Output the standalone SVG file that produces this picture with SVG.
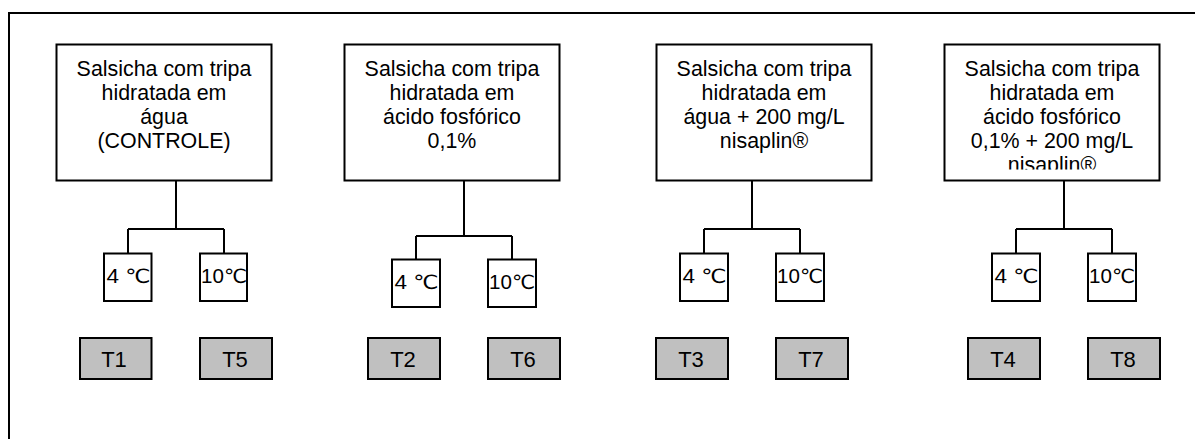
<svg xmlns="http://www.w3.org/2000/svg" width="1195" height="439" viewBox="0 0 1195 439">
<style>
  .box{fill:#fff;stroke:#000;stroke-width:2}
  .tbox{fill:#c0c0c0;stroke:#000;stroke-width:2}
  .ln{fill:none;stroke:#000;stroke-width:2}
  .t{font-family:"Liberation Sans",Arial,sans-serif;font-size:21.4px;fill:#000;text-anchor:middle}
  .tmp{font-family:"Liberation Sans",Arial,"DejaVu Sans",sans-serif;font-size:19.5px;fill:#000}
  .lab{font-family:"Liberation Sans",Arial,sans-serif;font-size:22px;fill:#000;text-anchor:middle}
</style>
<defs>
  <clipPath id="clip4"><rect x="944" y="44" width="217" height="125.5"/></clipPath>
</defs>
<rect width="1195" height="439" fill="#fff"/>
<path class="ln" d="M9,439 V13 H1195" stroke-width="1.8"/>

<g id="connectors">
  <path class="ln" d="M176,181 V229 M128,229 H224 M128,229 V253.5 M224,229 V253.5"/>
  <path class="ln" d="M464,181 V236 M416,236 H512 M416,236 V259.5 M512,236 V259.5"/>
  <path class="ln" d="M752,181 V229 M704,229 H800 M704,229 V253.5 M800,229 V253.5"/>
  <path class="ln" d="M1064,181 V229 M1016,229 H1112 M1016,229 V253.5 M1112,229 V253.5"/>
</g>

<g id="n1">
  <rect class="box" x="56.5" y="44.5" width="215" height="136"/>
  <text class="t" x="164" y="76">Salsicha com tripa</text>
  <text class="t" x="164" y="100">hidratada em</text>
  <text class="t" x="164" y="124">água</text>
  <text class="t" x="164" y="148">(CONTROLE)</text>
</g>
<g id="n2">
  <rect class="box" x="344.5" y="44.5" width="215" height="136"/>
  <text class="t" x="452" y="76">Salsicha com tripa</text>
  <text class="t" x="452" y="100">hidratada em</text>
  <text class="t" x="452" y="124">ácido fosfórico</text>
  <text class="t" x="452" y="148">0,1%</text>
</g>
<g id="n3">
  <rect class="box" x="656.5" y="44.5" width="215" height="136"/>
  <text class="t" x="764" y="76">Salsicha com tripa</text>
  <text class="t" x="764" y="100">hidratada em</text>
  <text class="t" x="764" y="124">água + 200 mg/L</text>
  <text class="t" x="764" y="148">nisaplin®</text>
</g>
<g id="n4">
  <rect class="box" x="944.5" y="44.5" width="215" height="136"/>
  <g clip-path="url(#clip4)">
    <text class="t" x="1052" y="76">Salsicha com tripa</text>
    <text class="t" x="1052" y="100">hidratada em</text>
    <text class="t" x="1052" y="124">ácido fosfórico</text>
    <text class="t" x="1052" y="148">0,1% + 200 mg/L</text>
    <text class="t" x="1052" y="172">nisaplin®</text>
  </g>
</g>

<g id="c1a"><rect class="box" x="104" y="253.5" width="47.5" height="47.5"/><text class="tmp" x="106.5" y="283" textLength="44" lengthAdjust="spacingAndGlyphs">4 ℃</text></g>
<g id="c1b"><rect class="box" x="200" y="253.5" width="47" height="47.5"/><text class="tmp" x="201" y="283" textLength="46" lengthAdjust="spacingAndGlyphs">10℃</text></g>
<g id="c2a"><rect class="box" x="392" y="259.5" width="48" height="47.5"/><text class="tmp" x="394.5" y="289" textLength="44" lengthAdjust="spacingAndGlyphs">4 ℃</text></g>
<g id="c2b"><rect class="box" x="488" y="259.5" width="48" height="47.5"/><text class="tmp" x="489" y="289" textLength="46" lengthAdjust="spacingAndGlyphs">10℃</text></g>
<g id="c3a"><rect class="box" x="680" y="253.5" width="48" height="47.5"/><text class="tmp" x="682.5" y="283" textLength="44" lengthAdjust="spacingAndGlyphs">4 ℃</text></g>
<g id="c3b"><rect class="box" x="776" y="253.5" width="48" height="47.5"/><text class="tmp" x="777" y="283" textLength="46" lengthAdjust="spacingAndGlyphs">10℃</text></g>
<g id="c4a"><rect class="box" x="992" y="253.5" width="48" height="47.5"/><text class="tmp" x="994.5" y="283" textLength="44" lengthAdjust="spacingAndGlyphs">4 ℃</text></g>
<g id="c4b"><rect class="box" x="1088" y="253.5" width="48" height="47.5"/><text class="tmp" x="1089" y="283" textLength="46" lengthAdjust="spacingAndGlyphs">10℃</text></g>

<g id="t1"><rect class="tbox" x="80" y="338" width="71.5" height="41"/><text class="lab" x="114" y="367">T1</text></g>
<g id="t5"><rect class="tbox" x="200" y="338" width="72" height="41"/><text class="lab" x="235" y="367">T5</text></g>
<g id="t2"><rect class="tbox" x="368" y="338" width="72" height="41"/><text class="lab" x="403" y="367">T2</text></g>
<g id="t6"><rect class="tbox" x="488" y="338" width="72" height="41"/><text class="lab" x="523" y="367">T6</text></g>
<g id="t3"><rect class="tbox" x="656" y="338" width="72" height="41"/><text class="lab" x="691" y="367">T3</text></g>
<g id="t7"><rect class="tbox" x="776" y="338" width="72" height="41"/><text class="lab" x="811" y="367">T7</text></g>
<g id="t4"><rect class="tbox" x="968" y="338" width="72" height="41"/><text class="lab" x="1003" y="367">T4</text></g>
<g id="t8"><rect class="tbox" x="1088" y="338" width="72" height="41"/><text class="lab" x="1123" y="367">T8</text></g>
</svg>
